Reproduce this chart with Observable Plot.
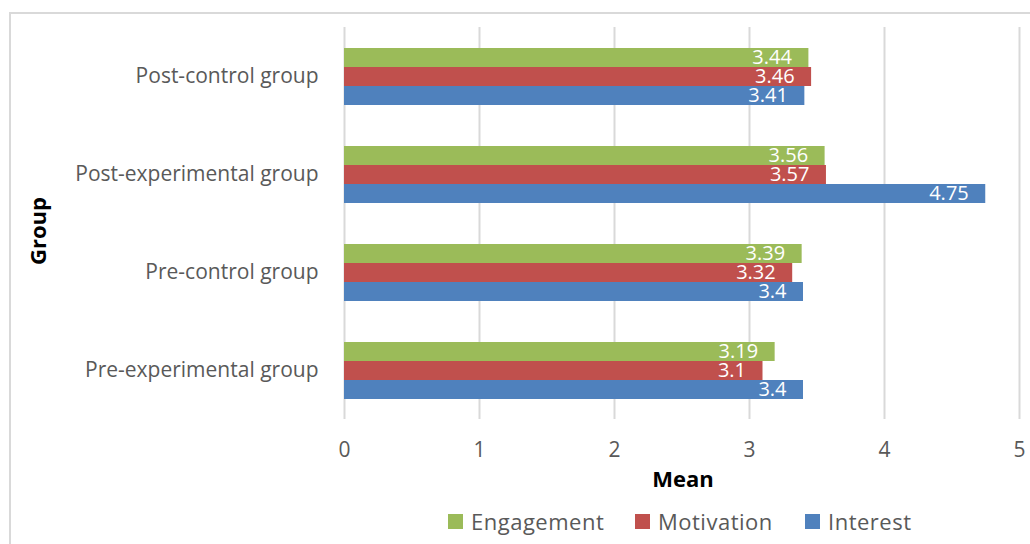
<!DOCTYPE html>
<html>
<head>
<meta charset="utf-8">
<script src="https://cdn.jsdelivr.net/npm/d3@7"></script>
<script src="https://cdn.jsdelivr.net/npm/@observablehq/plot@0.6"></script>
<style>
  html, body { margin: 0; padding: 0; background: #fff; overflow: hidden; }
  #wrap { position: relative; width: 1030px; height: 544px; font-family: "Open Sans", sans-serif; color: #595959; }
  #frame { position: absolute; left: 9px; top: 12px; width: 1040px; height: 560px; border: 2px solid #d9d9d9; box-sizing: border-box; }
  #chart { position: absolute; left: 0; top: 0; }
  .axlabel { position: absolute; font-weight: bold; font-size: 22px; color: #000; white-space: nowrap; line-height: 1; }
  .leg { position: absolute; font-size: 22px; letter-spacing: 0.5px; color: #595959; white-space: nowrap; display: flex; align-items: center; height: 30px; line-height: 30px; }
  .sw { width: 15px; height: 15px; margin-right: 8px; display: inline-block; }
</style>
</head>
<body>
<div id="wrap">
  <div id="frame"></div>
  <div id="chart"></div>
  <div class="axlabel" style="left:37px; top:231px; transform: translate(-50%,-50%) rotate(-90deg);">Group</div>
  <div class="axlabel" style="left:683px; top:478px; transform: translate(-50%,-50%);">Mean</div>
  <div id="legend"></div>
</div>
<script>
const groups = ["Post-control group", "Post-experimental group", "Pre-control group", "Pre-experimental group"];
const series = ["Engagement", "Motivation", "Interest"];
const colors = ["#9BBB59", "#C0504D", "#4F81BD"];
const engagement = [3.44, 3.56, 3.39, 3.19];
const motivation = [3.46, 3.57, 3.32, 3.1];
const interest = [3.41, 4.75, 3.4, 3.4];
const xTicks = [0, 1, 2, 3, 4, 5];

const values = {Engagement: engagement, Motivation: motivation, Interest: interest};
const data = [];
groups.forEach((g, i) => series.forEach(s => data.push({group: g, series: s, value: values[s][i]})));

const chart = Plot.plot({
  width: 1030,
  height: 544,
  marginTop: 26,
  marginBottom: 124,
  marginLeft: 344,
  marginRight: 11,
  style: {fontFamily: "Open Sans, sans-serif", fontSize: "21px", color: "#595959", background: "transparent"},
  x: {domain: [0, 5]},
  y: {domain: series, paddingInner: 0, paddingOuter: 0.96, axis: null},
  fy: {domain: groups, padding: 0},
  color: {domain: series, range: colors},
  marks: [
    Plot.ruleX(xTicks, {stroke: "#d9d9d9", strokeWidth: 2}),
    Plot.barX(data, {x: "value", y: "series", fy: "group", fill: "series"}),
    Plot.text(data, {x: "value", y: "series", fy: "group", text: d => String(d.value), textAnchor: "end", dx: -17, fill: "white", fontSize: 20}),
    Plot.axisX({ticks: xTicks, tickSize: 0, tickPadding: 23, label: null, fontSize: 21, tickFormat: d => String(d)}),
    Plot.axisFy({anchor: "left", tickSize: 0, tickPadding: 26, label: null, fontSize: 21})
  ]
});
document.getElementById("chart").appendChild(chart);

const legendPos = [448, 635, 805];
const legend = document.getElementById("legend");
series.forEach((s, i) => {
  const item = document.createElement("div");
  item.className = "leg";
  item.style.left = legendPos[i] + "px";
  item.style.top = "506px";
  const sw = document.createElement("span");
  sw.className = "sw";
  sw.style.background = colors[i];
  item.appendChild(sw);
  item.appendChild(document.createTextNode(s));
  legend.appendChild(item);
});
</script>
</body>
</html>
